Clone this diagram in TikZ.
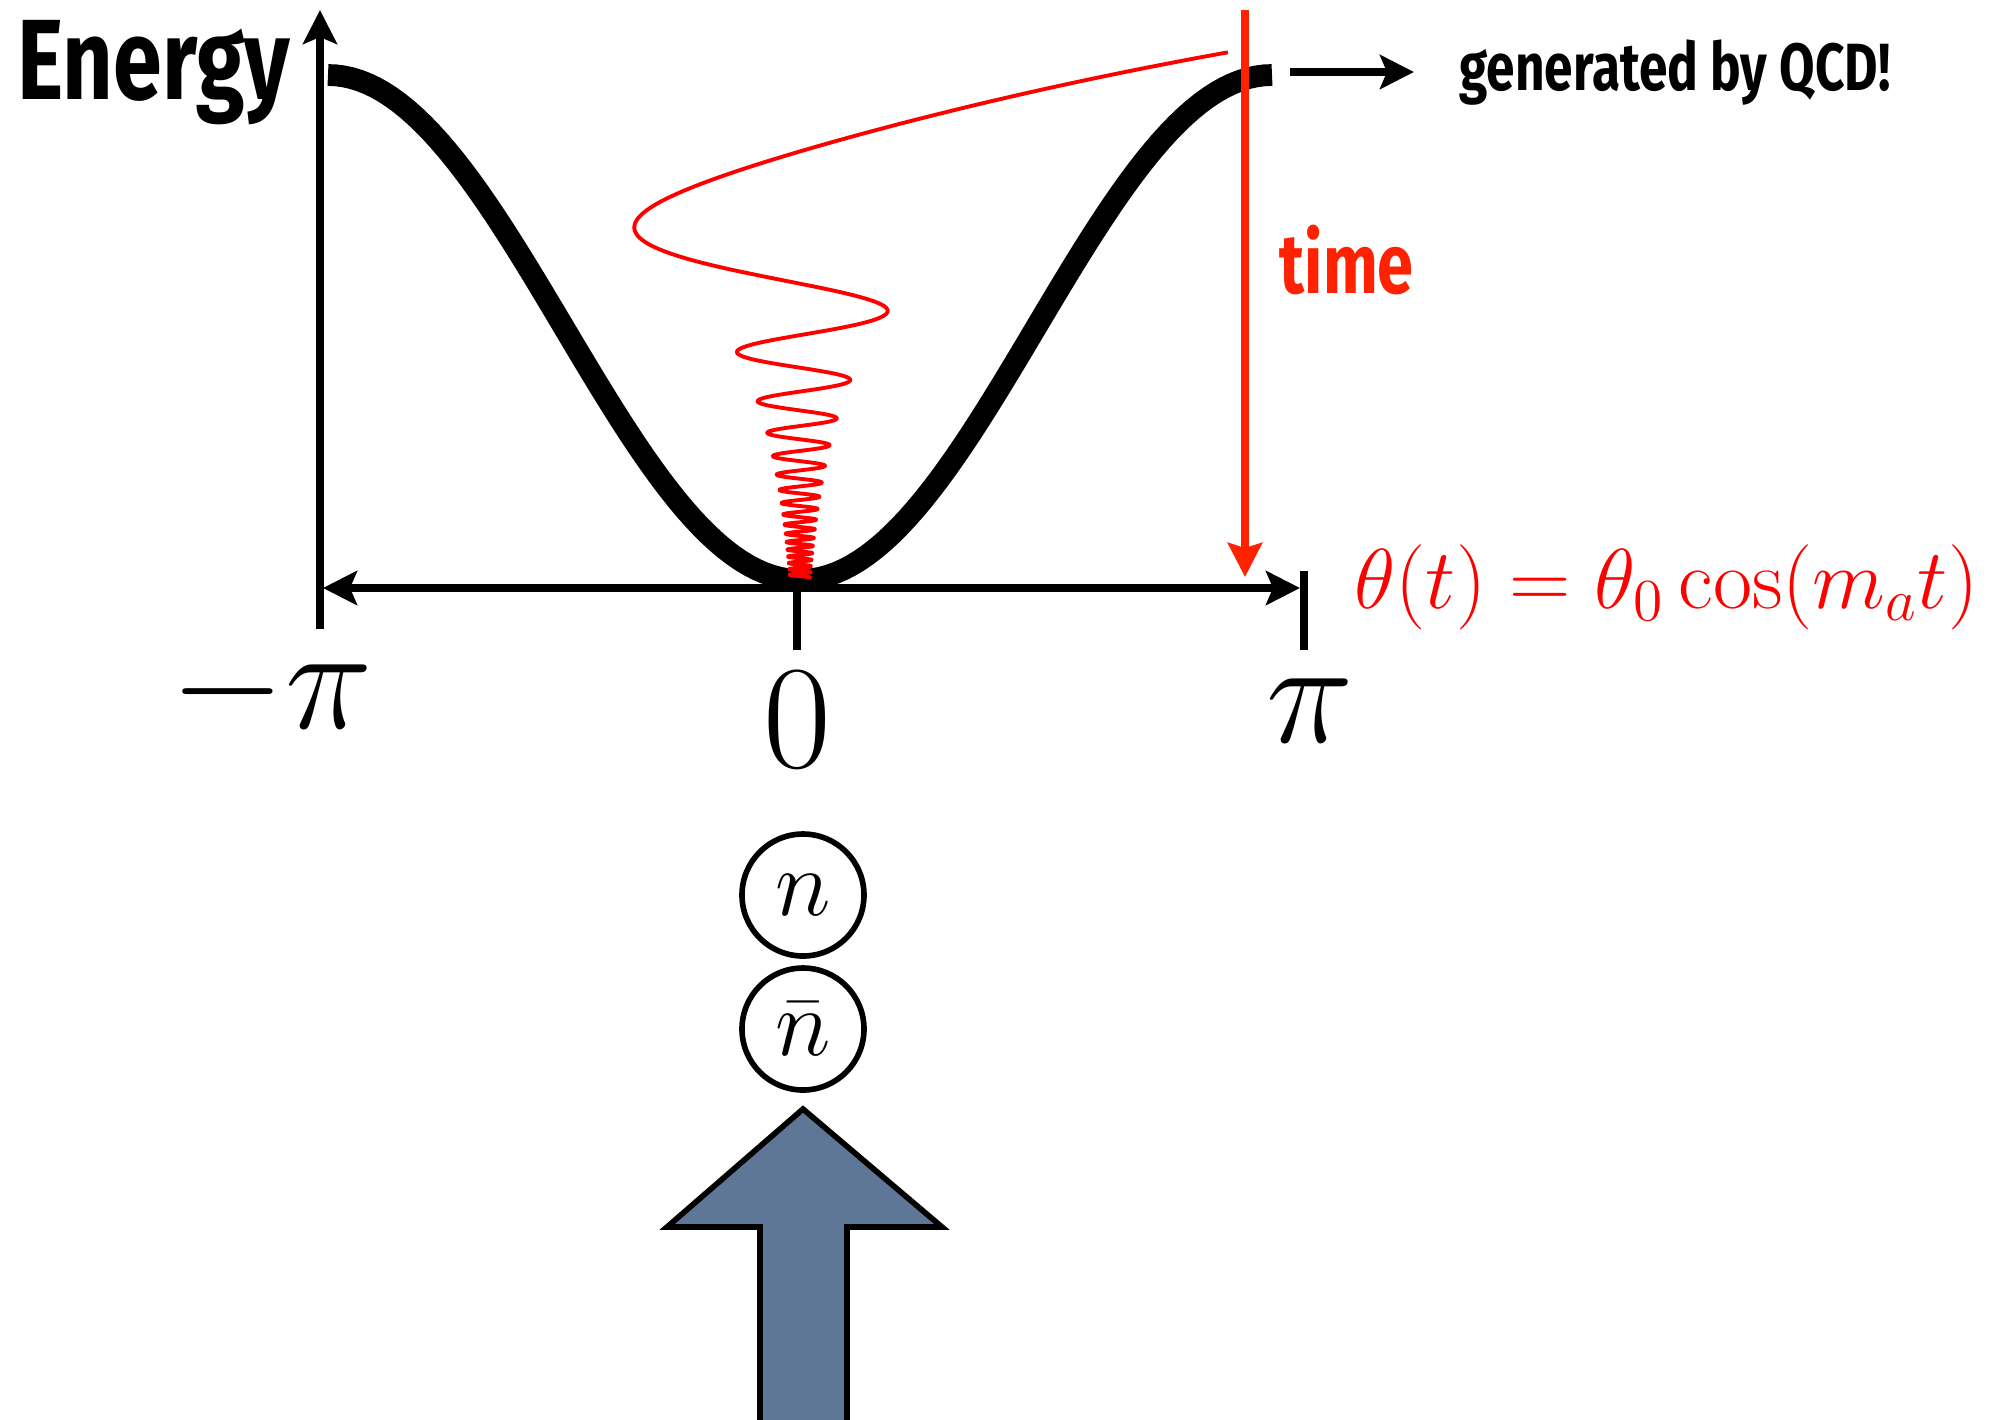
\RequirePackage{fix-cm}
\documentclass[tikz,border=0pt]{standalone}
\usepackage{fontspec}
\usepackage{tikz}
\usetikzlibrary{arrows.meta, positioning}
\newfontfamily\condsans[FakeStretch=0.77]{Fira Sans}
\definecolor{timeRed}{HTML}{FF2200}
\definecolor{waveRed}{HTML}{FF0000}
\definecolor{pushBlue}{HTML}{5F7796}

\begin{document}
\begin{tikzpicture}[
  every node/.style={inner sep=0pt},
  headline/.style={font=\condsans\bfseries\fontsize{32.5}{36}\selectfont},
  note/.style={font=\condsans\bfseries\fontsize{19}{22}\selectfont},
  timeword/.style={font=\condsans\bfseries\fontsize{24}{28}\selectfont, color=timeRed},
  tickLabel/.style={font=\fontsize{42}{48}\selectfont, anchor=base},
  eqLabel/.style={font=\fontsize{24.2}{28}\selectfont, color=waveRed, anchor=base west},
  particle/.style={circle, draw, line width=1.6pt, minimum size=1.22cm,
    font=\fontsize{27}{30}\selectfont},
  tip/.style={-{Stealth[length=0.34cm, width=0.34cm, inset=0.07cm]}},
  axis/.style={line width=2.4pt},
  potential/.style={line width=6.2pt},
  wave/.style={draw=waveRed, line width=1.1pt, line join=round},
  push/.style={fill=pushBlue, draw=black, line width=1.6pt, line join=miter}
]
\useasboundingbox (-7.97,-8.31) rectangle (12.07,5.88);

% --- Axes ---
\coordinate (yBot)   at (-4.77,-0.41);
\coordinate (yTop)   at (-4.77, 5.78);
\coordinate (xLeft)  at (-4.74, 0.00);
\coordinate (xRight) at ( 5.03, 0.00);
\coordinate (zeroTop) at (0.00, 0.00);
\coordinate (zeroBot) at (0.00,-0.62);
\coordinate (piTop)  at (5.07, 0.17);
\coordinate (piBot)  at (5.07,-0.62);

\draw[axis, tip] (yBot) -- (yTop);
\draw[axis, {Stealth[length=0.34cm, width=0.34cm, inset=0.07cm]}-{Stealth[length=0.34cm, width=0.34cm, inset=0.07cm]}] (xLeft) -- (xRight);
\draw[axis] (zeroTop) -- (zeroBot);
\draw[axis] (piTop) -- (piBot);

\node[headline, anchor=base east] (energyLabel) at (-5.06, 4.89) {Energy};

\node[tickLabel] (tickMinus) at (-5.25,-1.40) {$-\pi$};
\node[tickLabel] (tickZero)  at ( 0.00,-1.79) {$0$};
\node[tickLabel] (tickPi)    at ( 5.13,-1.54) {$\pi$};

% --- Potential ---
\draw[potential] plot[domain=-180:180, samples=120, variable=\t]
  ({0.03+4.72*\t/180}, {0.08+5.05*(1-cos(\t))/2});

% --- QCD note ---
\coordinate (flatEnd) at (4.93, 5.16);
\node[note, anchor=base west, inner xsep=0.45cm] (qcdLabel) at (6.17, 4.98) {generated by QCD!};
\draw[line width=2.2pt, tip] (flatEnd) -- (flatEnd -| qcdLabel.west);

% --- Time arrow ---
\coordinate (timeTop) at (4.48, 5.78);
\coordinate (timeBot) at (4.48, 0.11);
\draw[draw=timeRed, line width=2.2pt, -{Stealth[length=0.34cm, width=0.34cm, inset=0.05cm]}, color=timeRed] (timeTop) -- (timeBot);
\node[timeword, anchor=base west] (timeLabel) at (4.82, 2.95) {time};

% --- Oscillating field ---
\draw[wave] plot[domain=-2.3026:0.4055, samples=240, variable=\v]
  ({0.03+1.34*exp(-0.735*\v)*cos(180*(exp(\v)+0.2))}, {3.28-0.902*\v})
  -- plot[domain=1.5:33.9, samples=800, variable=\u]
  ({0.03+1.34*exp(-0.735*ln(\u))*cos(180*(\u+0.2))}, {3.28-0.902*ln(\u)});

\node[eqLabel] (thetaEq) at (5.57,-0.20) {$\theta(t) = \theta_0\cos(m_a t)$};

% --- Neutron pair ---
\node[particle] (nNode)    at (0.06,-3.07) {$n$};
\node[particle] (nbarNode) at (0.06,-4.41) {$\bar{n}$};

% --- Big arrow ---
\filldraw[push] (0.06,-5.21) -- (1.45,-6.39) -- (0.50,-6.39) -- (0.50,-8.50)
  -- (-0.37,-8.50) -- (-0.37,-6.39) -- (-1.30,-6.39) -- cycle;

\end{tikzpicture}
\end{document}
